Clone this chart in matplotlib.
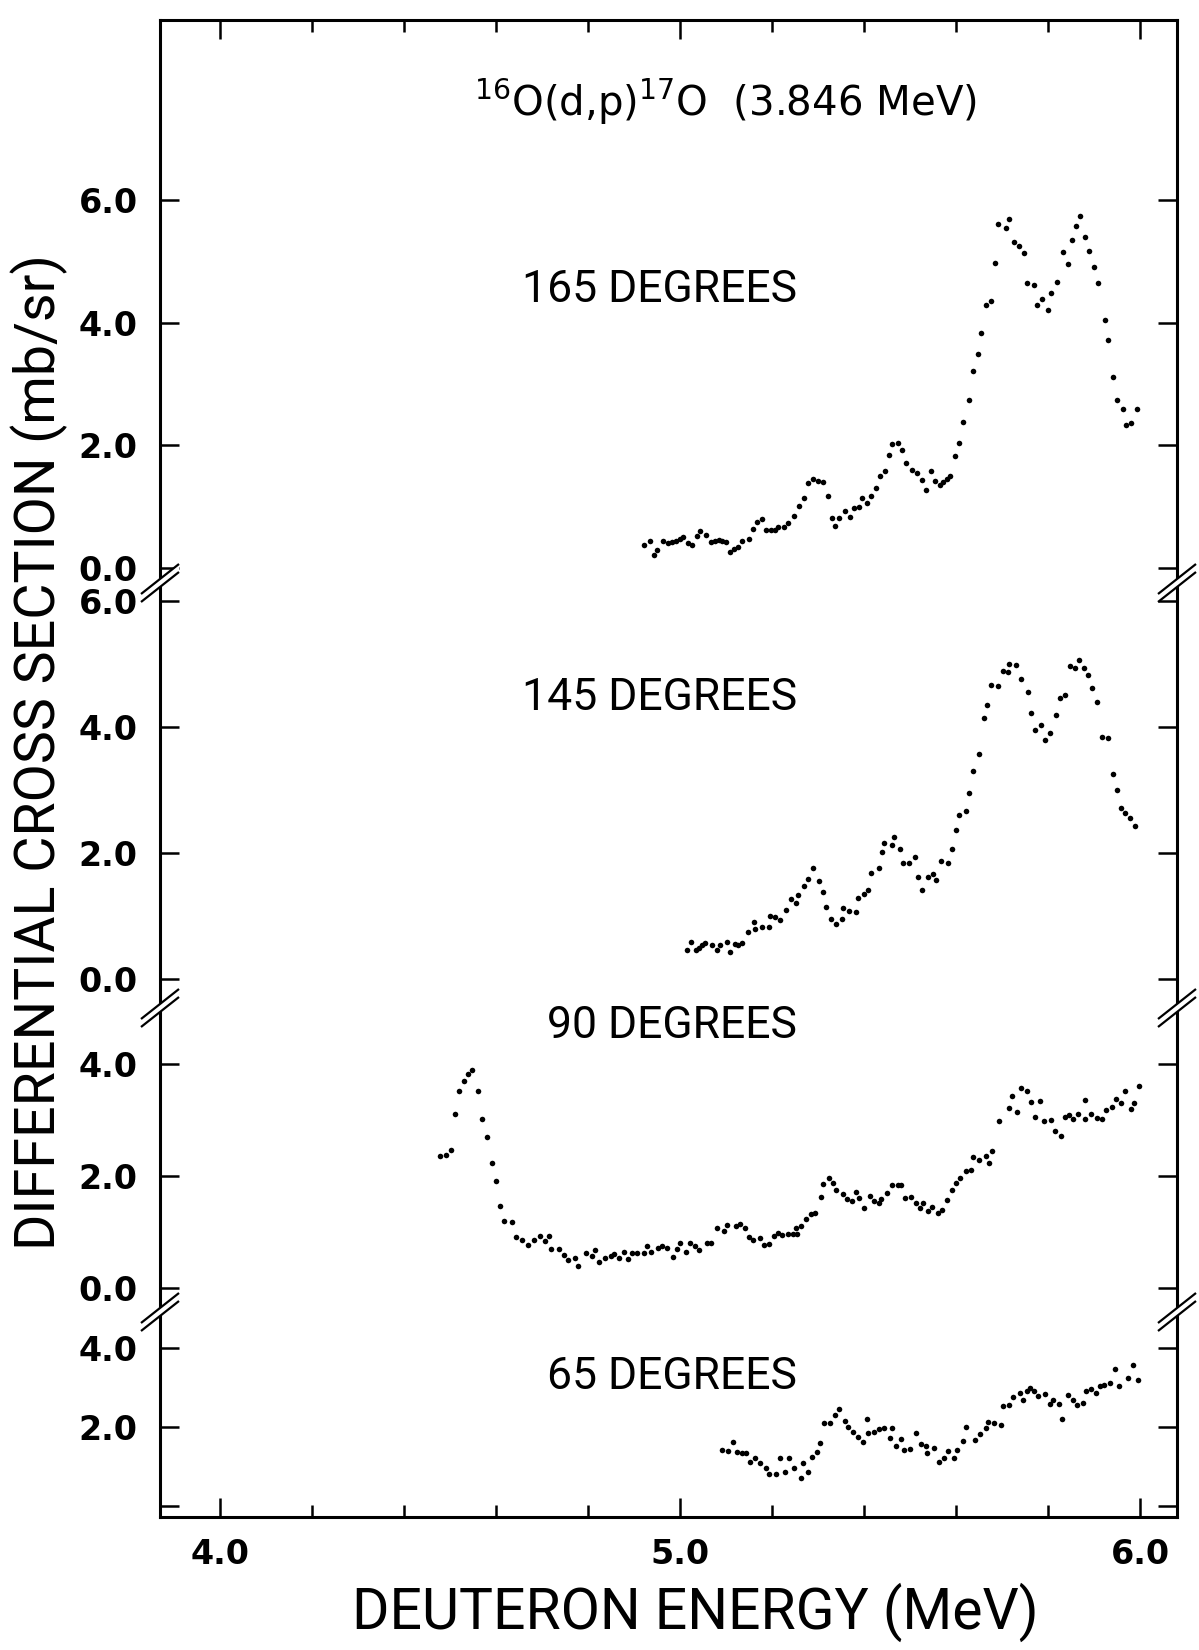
import matplotlib
matplotlib.use("Agg")
import matplotlib.pyplot as plt
from matplotlib.ticker import FixedLocator, MultipleLocator

# 165 degrees
e165 = [4.922, 4.935, 4.943, 4.951, 4.964, 4.974, 4.982, 4.991, 4.999, 5.007,
        5.017, 5.026, 5.038, 5.044, 5.057, 5.067, 5.075, 5.084, 5.092, 5.101,
        5.108, 5.118, 5.125, 5.135, 5.149, 5.158, 5.167, 5.178, 5.187, 5.197,
        5.206, 5.214, 5.226, 5.234, 5.247, 5.259, 5.269, 5.279, 5.288, 5.299,
        5.311, 5.321, 5.331, 5.336, 5.346, 5.359, 5.369, 5.378, 5.388, 5.396,
        5.406, 5.415, 5.425, 5.434, 5.445, 5.455, 5.461, 5.474, 5.483, 5.491,
        5.505, 5.516, 5.526, 5.534, 5.545, 5.554, 5.565, 5.572, 5.581, 5.586,
        5.597, 5.606, 5.616, 5.627, 5.637, 5.648, 5.654, 5.665, 5.675, 5.685,
        5.692, 5.708, 5.716, 5.725, 5.736, 5.748, 5.753, 5.770, 5.775, 5.787,
        5.799, 5.806, 5.820, 5.832, 5.843, 5.851, 5.860, 5.869, 5.881, 5.889,
        5.900, 5.908, 5.923, 5.929, 5.942, 5.950, 5.962, 5.970, 5.981, 5.992]
s165 = [0.38, 0.45, 0.22, 0.30, 0.45, 0.41, 0.42, 0.45, 0.47, 0.51,
        0.41, 0.38, 0.52, 0.61, 0.54, 0.42, 0.45, 0.46, 0.45, 0.43,
        0.27, 0.31, 0.35, 0.45, 0.47, 0.64, 0.75, 0.80, 0.63, 0.63,
        0.63, 0.68, 0.68, 0.73, 0.85, 1.02, 1.14, 1.39, 1.46, 1.42,
        1.41, 1.17, 0.82, 0.69, 0.82, 0.93, 0.83, 0.98, 1.00, 1.14,
        1.07, 1.17, 1.31, 1.50, 1.58, 1.84, 2.02, 2.04, 1.92, 1.72,
        1.60, 1.55, 1.43, 1.27, 1.58, 1.42, 1.36, 1.40, 1.46, 1.50,
        1.83, 2.04, 2.38, 2.74, 3.22, 3.49, 3.83, 4.29, 4.36, 4.98,
        5.60, 5.54, 5.69, 5.31, 5.25, 5.13, 4.64, 4.61, 4.29, 4.39,
        4.21, 4.49, 4.66, 5.15, 4.95, 5.35, 5.58, 5.74, 5.40, 5.17,
        4.91, 4.65, 4.04, 3.72, 3.12, 2.74, 2.60, 2.33, 2.37, 2.60]

# 145 degrees
e145 = [5.015, 5.023, 5.035, 5.041, 5.047, 5.054, 5.070, 5.081, 5.087, 5.102,
        5.108, 5.120, 5.126, 5.135, 5.147, 5.160, 5.164, 5.178, 5.193, 5.196,
        5.207, 5.218, 5.231, 5.241, 5.252, 5.256, 5.269, 5.279, 5.290, 5.301,
        5.310, 5.317, 5.329, 5.340, 5.353, 5.354, 5.367, 5.382, 5.386, 5.399,
        5.409, 5.416, 5.432, 5.440, 5.443, 5.461, 5.466, 5.479, 5.484, 5.497,
        5.510, 5.517, 5.526, 5.538, 5.549, 5.556, 5.568, 5.583, 5.592, 5.600,
        5.607, 5.621, 5.627, 5.637, 5.649, 5.661, 5.668, 5.676, 5.691, 5.701,
        5.713, 5.716, 5.731, 5.741, 5.756, 5.763, 5.771, 5.784, 5.794, 5.805,
        5.816, 5.825, 5.837, 5.847, 5.858, 5.868, 5.877, 5.886, 5.896, 5.907,
        5.917, 5.931, 5.940, 5.950, 5.958, 5.967, 5.978, 5.988]
s145 = [0.46, 0.59, 0.46, 0.50, 0.54, 0.57, 0.54, 0.46, 0.54, 0.59,
        0.43, 0.55, 0.54, 0.58, 0.74, 0.90, 0.79, 0.83, 0.83, 1.00,
        0.99, 0.93, 1.10, 1.27, 1.20, 1.33, 1.47, 1.59, 1.77, 1.55,
        1.38, 1.14, 0.95, 0.87, 0.96, 1.13, 1.08, 1.06, 1.29, 1.35,
        1.41, 1.68, 1.76, 2.02, 2.16, 2.13, 2.25, 2.07, 1.84, 1.85,
        1.94, 1.62, 1.42, 1.62, 1.67, 1.58, 1.88, 1.84, 2.07, 2.36,
        2.60, 2.67, 2.96, 3.30, 3.58, 4.14, 4.36, 4.67, 4.66, 4.90,
        4.87, 5.00, 4.99, 4.77, 4.56, 4.23, 3.96, 4.04, 3.80, 3.91,
        4.20, 4.47, 4.51, 4.97, 4.94, 5.06, 4.94, 4.83, 4.62, 4.40,
        3.84, 3.83, 3.26, 3.01, 2.72, 2.63, 2.56, 2.43]

# 90 degrees
e90 = [4.478, 4.492, 4.502, 4.510, 4.520, 4.531, 4.539, 4.548, 4.560, 4.569,
       4.581, 4.592, 4.601, 4.608, 4.618, 4.634, 4.643, 4.657, 4.669, 4.682,
       4.695, 4.706, 4.715, 4.720, 4.736, 4.748, 4.757, 4.771, 4.778, 4.796,
       4.809, 4.815, 4.824, 4.836, 4.849, 4.857, 4.868, 4.879, 4.886, 4.896,
       4.907, 4.921, 4.928, 4.938, 4.952, 4.960, 4.971, 4.984, 4.993, 5.001,
       5.013, 5.021, 5.032, 5.042, 5.058, 5.068, 5.081, 5.095, 5.103, 5.121,
       5.131, 5.142, 5.150, 5.159, 5.174, 5.182, 5.193, 5.205, 5.214, 5.221,
       5.235, 5.245, 5.253, 5.254, 5.264, 5.274, 5.284, 5.293, 5.306, 5.311,
       5.323, 5.332, 5.340, 5.355, 5.363, 5.374, 5.382, 5.389, 5.399, 5.413,
       5.421, 5.432, 5.437, 5.449, 5.461, 5.473, 5.480, 5.490, 5.502, 5.513,
       5.521, 5.529, 5.539, 5.548, 5.561, 5.569, 5.581, 5.592, 5.599, 5.609,
       5.622, 5.632, 5.637, 5.650, 5.664, 5.671, 5.679, 5.693, 5.714, 5.722,
       5.732, 5.740, 5.753, 5.762, 5.772, 5.782, 5.790, 5.806, 5.814, 5.827,
       5.837, 5.846, 5.854, 5.865, 5.880, 5.880, 5.894, 5.906, 5.916, 5.926,
       5.938, 5.947, 5.959, 5.968, 5.979, 5.987, 5.998]
s90 = [2.35, 2.38, 2.47, 3.10, 3.51, 3.69, 3.82, 3.89, 3.51, 3.02,
       2.69, 2.24, 1.91, 1.46, 1.20, 1.17, 0.91, 0.86, 0.77, 0.85,
       0.92, 0.84, 0.92, 0.70, 0.70, 0.58, 0.50, 0.53, 0.39, 0.63,
       0.57, 0.67, 0.46, 0.54, 0.57, 0.60, 0.54, 0.64, 0.51, 0.63,
       0.62, 0.62, 0.75, 0.64, 0.72, 0.74, 0.72, 0.55, 0.69, 0.80,
       0.64, 0.81, 0.74, 0.68, 0.81, 0.81, 1.07, 1.01, 1.13, 1.10,
       1.14, 1.07, 0.91, 0.85, 0.90, 0.77, 0.79, 0.93, 0.98, 0.95,
       0.96, 0.96, 1.07, 0.96, 1.10, 1.24, 1.32, 1.34, 1.63, 1.86,
       1.96, 1.87, 1.75, 1.67, 1.59, 1.55, 1.71, 1.60, 1.42, 1.64,
       1.55, 1.51, 1.59, 1.70, 1.83, 1.84, 1.84, 1.61, 1.63, 1.52,
       1.42, 1.52, 1.38, 1.45, 1.33, 1.40, 1.57, 1.75, 1.87, 1.97,
       2.08, 2.10, 2.33, 2.29, 2.36, 2.24, 2.45, 2.98, 3.22, 3.43,
       3.14, 3.57, 3.52, 3.32, 3.05, 3.34, 2.99, 3.00, 2.81, 2.72,
       3.05, 3.08, 3.01, 3.11, 3.36, 3.01, 3.11, 3.04, 3.01, 3.18,
       3.24, 3.37, 3.31, 3.51, 3.20, 3.31, 3.61]

# 65 degrees
e65 = [5.092, 5.105, 5.115, 5.124, 5.135, 5.144, 5.153, 5.164, 5.174, 5.187,
       5.193, 5.209, 5.217, 5.229, 5.237, 5.248, 5.262, 5.268, 5.279, 5.286,
       5.298, 5.305, 5.313, 5.327, 5.336, 5.346, 5.359, 5.366, 5.377, 5.387,
       5.397, 5.406, 5.408, 5.422, 5.432, 5.443, 5.456, 5.461, 5.470, 5.481,
       5.487, 5.499, 5.512, 5.523, 5.534, 5.537, 5.552, 5.562, 5.573, 5.582,
       5.595, 5.603, 5.614, 5.621, 5.641, 5.651, 5.666, 5.669, 5.682, 5.697,
       5.702, 5.714, 5.723, 5.738, 5.745, 5.754, 5.761, 5.770, 5.779, 5.793,
       5.803, 5.810, 5.823, 5.831, 5.844, 5.853, 5.862, 5.876, 5.883, 5.894,
       5.905, 5.912, 5.922, 5.935, 5.946, 5.953, 5.973, 5.985, 5.996]
s65 = [1.42, 1.40, 1.61, 1.37, 1.34, 1.34, 1.12, 1.21, 1.08, 0.97,
       0.82, 0.82, 1.21, 0.85, 1.21, 0.95, 0.70, 1.08, 0.86, 1.25,
       1.37, 1.59, 2.11, 2.11, 2.31, 2.46, 2.15, 1.99, 1.88, 1.75,
       1.63, 2.19, 1.85, 1.88, 1.95, 1.97, 1.71, 1.98, 1.51, 1.69,
       1.42, 1.43, 1.84, 1.57, 1.52, 1.34, 1.47, 1.12, 1.21, 1.38,
       1.21, 1.42, 1.65, 1.99, 1.67, 1.81, 1.97, 2.13, 2.11, 2.05,
       2.53, 2.56, 2.75, 2.86, 2.69, 2.91, 2.98, 2.92, 2.79, 2.83,
       2.59, 2.69, 2.58, 2.20, 2.80, 2.69, 2.56, 2.61, 2.90, 2.97,
       2.86, 3.03, 3.07, 3.11, 3.47, 3.04, 3.24, 3.58, 3.20]

angle_labels = ["165 DEGREES", "145 DEGREES", "90 DEGREES", "65 DEGREES"]
ytick_vals = [[0, 2, 4, 6], [0, 2, 4, 6], [0, 2, 4], [0, 2, 4]]
ytick_text = [["0.0", "2.0", "4.0", "6.0"], ["0.0", "2.0", "4.0", "6.0"],
              ["0.0", "2.0", "4.0"], ["", "2.0", "4.0"]]
xtick_major = [4.0, 5.0, 6.0]
xtick_text = ["4.0", "5.0", "6.0"]

# layout (pixels)
W, H = 1199, 1650
ax_l, ax_r = 160, 1177
rows = [(20, 583), (583, 1008), (1008, 1312), (1312, 1517)]
ylims = [(-0.24, 8.93), (-0.46, 6.29), (-0.43, 5.0), (-0.28, 4.91)]
label_y = [4.53, 4.46, 4.68, 3.27]
xlim = (3.87, 6.08)

narrow = ["Roboto", "DejaVu Sans"]

fig = plt.figure(figsize=(W / 100, H / 100), dpi=100, facecolor="white")

data = [(e165, s165), (e145, s145), (e90, s90), (e65, s65)]
axes = []
for i, ((ex, sy), (top, bot)) in enumerate(zip(data, rows)):
    ax = fig.add_axes([ax_l / W, 1 - bot / H, (ax_r - ax_l) / W, (bot - top) / H])
    ax.plot(ex, sy, "o", color="black", ms=4.0, mew=0)
    ax.set_xlim(*xlim)
    ax.set_ylim(*ylims[i])
    for side in ["top", "bottom", "left", "right"]:
        ax.spines[side].set_linewidth(2.2)
    ax.spines["top"].set_visible(i == 0)
    ax.spines["bottom"].set_visible(i == 3)

    ax.yaxis.set_major_locator(FixedLocator(ytick_vals[i]))
    ax.set_yticklabels(ytick_text[i], fontweight="bold")
    ax.tick_params(axis="y", direction="in", length=13.5, width=1.8,
                   left=True, right=True, labelsize=24, pad=16)

    ax.xaxis.set_major_locator(FixedLocator(xtick_major))
    ax.xaxis.set_minor_locator(MultipleLocator(0.2))
    ax.set_xticklabels(xtick_text, fontweight="bold")
    ax.tick_params(axis="x", which="major", direction="in", length=14, width=1.8,
                   labelsize=24, pad=15)
    ax.tick_params(axis="x", which="minor", direction="in", length=8.5, width=1.8)
    ax.tick_params(axis="x", which="both", top=(i == 0), bottom=(i == 3),
                   labelbottom=(i == 3), labeltop=False)

    ax.text(5.254, label_y[i], angle_labels[i], ha="right", va="center",
            fontsize=32, family=narrow)
    axes.append(ax)

axes[0].text(5.098, 7.60, r"$^{16}$O(d,p)$^{17}$O  (3.846 MeV)",
             ha="center", va="center", fontsize=29)

fig.text(39 / W, 1 - 752 / H, "DIFFERENTIAL CROSS SECTION (mb/sr)",
         rotation=90, ha="center", va="center", fontsize=40, family=narrow)
fig.text(695 / W, 1 - 1612 / H, "DEUTERON ENERGY (MeV)",
         ha="center", va="center", fontsize=41, family=narrow)

# axis break marks "//" on both frame sides
ov = fig.add_axes([0, 0, 1, 1], zorder=10)
ov.set_xlim(0, W)
ov.set_ylim(H, 0)
ov.axis("off")
dx, dy, gap = 19, 15, 4
for yb in [583, 1008, 1312]:
    for xb in [ax_l, ax_r]:
        ov.fill([xb - dx, xb + dx, xb + dx, xb - dx],
                [yb + dy - gap, yb - dy - gap, yb - dy + gap, yb + dy + gap],
                color="white", lw=0)
        for g in (-gap, gap):
            ov.plot([xb - dx, xb + dx], [yb + dy + g, yb - dy + g],
                    color="black", lw=1.6, solid_capstyle="butt")

fig.savefig("out.png", dpi=100, facecolor="white")
